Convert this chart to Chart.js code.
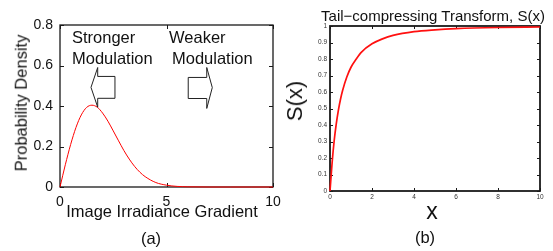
<!DOCTYPE html>
<html><head><meta charset="utf-8">
<script src="https://cdn.jsdelivr.net/npm/chart.js@4"></script>
<style>
html,body{margin:0;padding:0;background:#fff;}
#wrap{position:relative;width:553px;height:251px;overflow:hidden;font-family:"Liberation Sans",Arial,sans-serif;color:#111;}
canvas{position:absolute;top:0;}
.t{position:absolute;white-space:nowrap;line-height:1;transform:translate(-50%,-50%);}
.l{position:absolute;white-space:nowrap;line-height:1;transform:translate(0,-50%);}
.r{transform:translate(-50%,-50%) rotate(-90deg);}
</style></head><body>
<div id="wrap">
<canvas id="ca" width="292" height="251" style="left:0;width:292px;height:251px"></canvas>
<canvas id="cb" width="273" height="251" style="left:280px;width:273px;height:251px"></canvas>
<div class="t r" style="left:21px;top:103px;font-size:16.5px">Probability Density</div>
<div class="t" style="left:162px;top:211px;font-size:16.5px">Image Irradiance Gradient</div>
<div class="t" style="left:151px;top:238px;font-size:16.5px">(a)</div>
<div class="l" style="left:72px;top:37px;font-size:16.5px">Stronger</div>
<div class="l" style="left:72px;top:58px;font-size:16.5px">Modulation</div>
<div class="l" style="left:169px;top:37px;font-size:16.5px">Weaker</div>
<div class="l" style="left:172px;top:58px;font-size:16.5px">Modulation</div>
<div class="t" style="left:433px;top:15px;font-size:15px">Tail&#8722;compressing Transform, S(x)</div>
<div class="t r" style="left:295px;top:101px;font-size:22px">S(x)</div>
<div class="t" style="left:432px;top:211px;font-size:23px">x</div>
<div class="t" style="left:425px;top:237px;font-size:16.5px">(b)</div>
</div>
<script>
// Panel (a): probability density of image irradiance gradient
const gradX   = [0,0.25,0.5,0.75,1,1.25,1.5,1.75,2,2.25,2.5,2.75,3,3.25,3.5,3.75,4,4.5,5,5.5,6,7,8,9,10];
const density = [0,0.11,0.21,0.294,0.356,0.393,0.404,0.394,0.365,0.325,0.277,0.228,0.18,0.138,0.102,0.073,0.051,0.022,0.009,0.003,0.001,0,0,0,0];
const ticksAX = [0,5,10];
const ticksAY = [0,0.2,0.4,0.6,0.8];

// Panel (b): tail-compressing transform S(x)
const sX   = [0,0.1,0.2,0.3,0.4,0.5,0.6,0.8,1,1.25,1.5,2,2.5,3,4,5,6,8,10];
const sVal = [0,0.17,0.306,0.408,0.49,0.556,0.609,0.691,0.75,0.80,0.842,0.892,0.922,0.943,0.966,0.977,0.984,0.991,0.994];
const ticksBX = [0,2,4,6,8,10];
const ticksBY = [0,0.1,0.2,0.3,0.4,0.5,0.6,0.7,0.8,0.9,1];

// Annotation arrows (data coordinates of panel a)
const arrowLeft  = [[2.58,0.546],[1.77,0.546],[1.77,0.59],[1.455,0.492],[1.77,0.394],[1.77,0.438],[2.58,0.438]];
const arrowRight = [[6.02,0.541],[6.89,0.541],[6.89,0.59],[7.15,0.491],[6.89,0.388],[6.89,0.437],[6.02,0.437]];

const FONT = '"Liberation Sans", Arial, sans-serif';

function framePlugin(tickLen, lw){
  return {
    id:'frame',
    beforeDatasetsDraw(chart){
      const {ctx, chartArea:a, scales} = chart;
      ctx.save();
      ctx.strokeStyle = '#1a1a1a';
      ctx.lineWidth = lw;
      ctx.strokeRect(a.left, a.top, a.right-a.left, a.bottom-a.top);
      ctx.lineWidth = 1;
      ctx.beginPath();
      scales.x.ticks.forEach(t=>{
        const p = Math.round(scales.x.getPixelForValue(t.value))+0.5;
        ctx.moveTo(p,a.bottom); ctx.lineTo(p,a.bottom-tickLen);
        ctx.moveTo(p,a.top); ctx.lineTo(p,a.top+tickLen);
      });
      scales.y.ticks.forEach(t=>{
        const p = Math.round(scales.y.getPixelForValue(t.value))+0.5;
        ctx.moveTo(a.left,p); ctx.lineTo(a.left+tickLen,p);
        ctx.moveTo(a.right,p); ctx.lineTo(a.right-tickLen,p);
      });
      ctx.stroke();
      ctx.restore();
    }
  };
}

const arrowPlugin = {
  id:'arrows',
  afterDraw(chart){
    const {ctx, scales} = chart;
    ctx.save();
    ctx.strokeStyle = '#222';
    ctx.lineWidth = 1;
    [arrowLeft, arrowRight].forEach(poly=>{
      ctx.beginPath();
      poly.forEach((pt,i)=>{
        const px = scales.x.getPixelForValue(pt[0]);
        const py = scales.y.getPixelForValue(pt[1]);
        if(i===0) ctx.moveTo(px,py); else ctx.lineTo(px,py);
      });
      ctx.closePath();
      ctx.stroke();
    });
    ctx.restore();
  }
};

function fmt(v){ return String(Math.round(v*10)/10); }
function noPad(s){ s.paddingLeft = 0; s.paddingRight = 0; s.paddingTop = 0; s.paddingBottom = 0; }

new Chart(document.getElementById('ca'), {
  type:'line',
  data:{datasets:[{
    data: gradX.map((x,i)=>({x:x, y:density[i]})),
    borderColor:'#ff0000', borderWidth:1, pointRadius:0,
    tension:0.4, cubicInterpolationMode:'monotone', clip:false
  }]},
  options:{
    responsive:false, animation:false, devicePixelRatio:1,
    layout:{padding:{left:0, top:25, right:19, bottom:0}},
    plugins:{legend:{display:false}, tooltip:{enabled:false}},
    scales:{
      x:{type:'linear', min:0, max:10,
        afterBuildTicks(s){ s.ticks = ticksAX.map(v=>({value:v})); },
        afterFit(s){ s.height = 64; noPad(s); },
        grid:{display:false, drawTicks:false}, border:{display:false},
        ticks:{padding:7, maxRotation:0, color:'#111', font:{family:FONT, size:14}, callback:fmt}
      },
      y:{type:'linear', min:0, max:0.8,
        afterBuildTicks(s){ s.ticks = ticksAY.map(v=>({value:v})); },
        afterFit(s){ s.width = 60; noPad(s); },
        grid:{display:false, drawTicks:false}, border:{display:false},
        ticks:{padding:7, color:'#111', font:{family:FONT, size:14}, callback:fmt}
      }
    }
  },
  plugins:[framePlugin(4,1.3), arrowPlugin]
});

new Chart(document.getElementById('cb'), {
  type:'line',
  data:{datasets:[{
    data: sX.map((x,i)=>({x:x, y:sVal[i]})),
    borderColor:'#ff1010', borderWidth:1.7, pointRadius:0,
    tension:0.4, cubicInterpolationMode:'monotone', clip:false
  }]},
  options:{
    responsive:false, animation:false, devicePixelRatio:1,
    layout:{padding:{left:0, top:26, right:13, bottom:0}},
    plugins:{legend:{display:false}, tooltip:{enabled:false}},
    scales:{
      x:{type:'linear', min:0, max:10,
        afterBuildTicks(s){ s.ticks = ticksBX.map(v=>({value:v})); },
        afterFit(s){ s.height = 60; noPad(s); },
        grid:{display:false, drawTicks:false}, border:{display:false},
        ticks:{padding:2, maxRotation:0, color:'#333', font:{family:FONT, size:6.5}, callback:fmt}
      },
      y:{type:'linear', min:0, max:1,
        afterBuildTicks(s){ s.ticks = ticksBY.map(v=>({value:v})); },
        afterFit(s){ s.width = 50; noPad(s); },
        grid:{display:false, drawTicks:false}, border:{display:false},
        ticks:{padding:3, color:'#333', font:{family:FONT, size:6.5}, callback:fmt}
      }
    }
  },
  plugins:[framePlugin(3,1.8)]
});
</script>
</body></html>
